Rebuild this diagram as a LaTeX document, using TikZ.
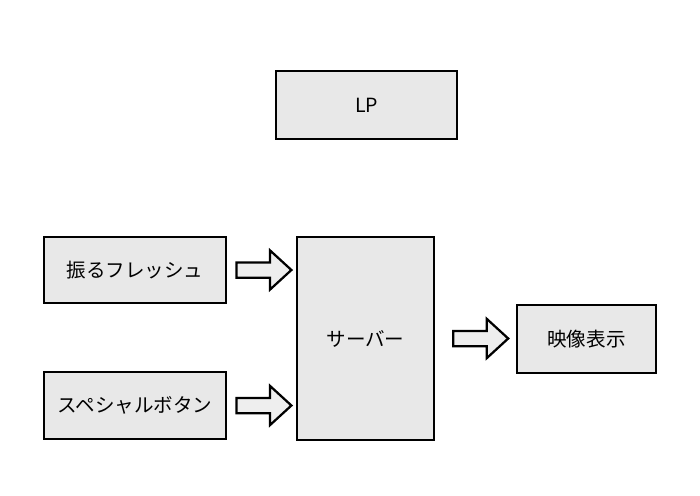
\documentclass[tikz,border=0pt]{standalone}
\usepackage{fontspec}
\setmainfont{Noto Sans CJK JP}
\usetikzlibrary{shapes.arrows,positioning}

\definecolor{boxgray}{RGB}{232,232,232}
\definecolor{arrowgray}{RGB}{238,238,238}

\begin{document}
\begin{tikzpicture}[
  font=\fontsize{13.9pt}{16pt}\selectfont,
  box/.style={
    draw=black,
    fill=boxgray,
    line width=1.8pt,
    inner sep=0pt,
    align=center
  },
  blockarrow/.style={
    single arrow,
    draw=black,
    fill=arrowgray,
    line width=1.6pt,
    inner xsep=0pt,
    inner ysep=0.1625cm,
    single arrow head extend=0.3cm,
    single arrow tip angle=85,
    minimum height=1.375cm
  }
]
\useasboundingbox (0,0) rectangle (17.5,12.375);

\node[box, minimum width=4.525cm, minimum height=1.7cm] (lp) at (9.1625,9.75) {LP};

\node[box, minimum width=4.55cm, minimum height=1.65cm] (shake) at (3.375,5.625) {振るフレッシュ};
\node[box, minimum width=4.55cm, minimum height=1.675cm] (special) at (3.375,2.2375) {スペシャルボタン};
\node[box, minimum width=3.425cm, minimum height=5.075cm] (server) at (9.1375,3.9125) {サーバー};
\node[box, minimum width=3.475cm, minimum height=1.7cm] (video) at (14.6625,3.9) {映像表示};

\node[blockarrow, right=0.2cm of shake] (arr1) {};
\node[blockarrow, right=0.2cm of special] (arr2) {};
\node[blockarrow, right=0.42cm of server] (arr3) {};

\end{tikzpicture}
\end{document}
